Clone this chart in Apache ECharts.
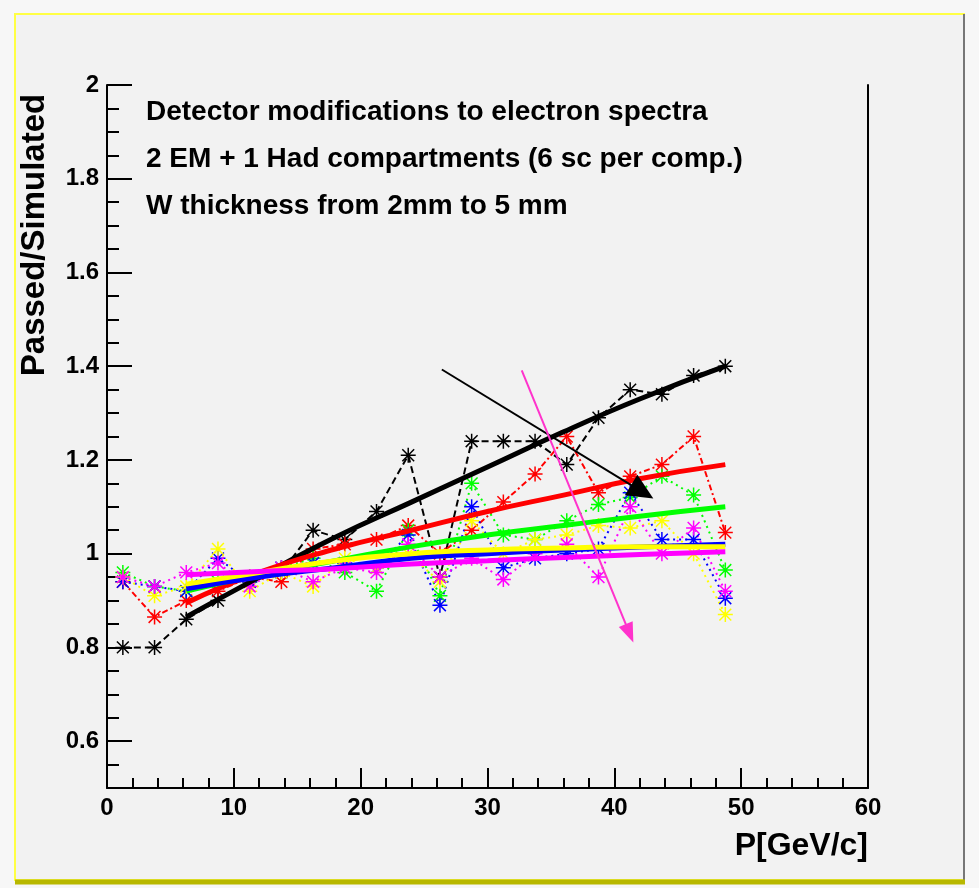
<!DOCTYPE html>
<html>
<head>
<meta charset="utf-8">
<script src="https://cdn.jsdelivr.net/npm/echarts@6/dist/echarts.min.js"></script>
<style>
html, body { margin: 0; padding: 0; background: #f7f7f7; }
#main { width: 979px; height: 888px; }
</style>
</head>
<body>
<div id="main"></div>
<script>
var chart = echarts.init(document.getElementById('main'));

// momentum bins (GeV/c)
var pX = [1.25, 3.75, 6.25, 8.75, 11.25, 13.75, 16.25, 18.75, 21.25, 23.75,
          26.25, 28.75, 31.25, 33.75, 36.25, 38.75, 41.25, 43.75, 46.25, 48.75];

// passed/simulated ratio, one list per W thickness
var blackPts   = [0.80, 0.80, 0.86, 0.90, 0.94, 0.96, 1.05, 1.03, 1.09, 1.21, 0.95, 1.24, 1.24, 1.24, 1.19, 1.29, 1.35, 1.34, 1.38, 1.40];
var redPts     = [0.94, 0.865, 0.90, 0.92, 0.95, 0.94, 1.01, 1.02, 1.03, 1.06, 1.00, 1.05, 1.11, 1.17, 1.25, 1.13, 1.165, 1.19, 1.25, 1.045];
var greenPts   = [0.96, 0.93, 0.92, 0.94, 0.95, 0.97, 0.99, 0.96, 0.92, 1.05, 0.91, 1.15, 1.04, 1.03, 1.07, 1.105, 1.12, 1.165, 1.125, 0.965];
var yellowPts  = [0.95, 0.91, 0.93, 1.01, 0.92, 0.96, 0.93, 0.99, 0.97, 1.00, 0.94, 1.07, 1.00, 1.03, 1.04, 1.06, 1.055, 1.07, 1.00, 0.87];
var bluePts    = [0.94, 0.93, 0.92, 0.99, 0.94, 0.97, 0.98, 0.98, 0.97, 1.04, 0.89, 1.10, 0.97, 0.99, 1.00, 1.01, 1.13, 1.03, 1.03, 0.905];
var magentaPts = [0.95, 0.93, 0.96, 0.98, 0.93, 0.97, 0.94, 0.97, 0.96, 1.02, 0.95, 0.99, 0.945, 1.00, 1.02, 0.95, 1.10, 1.00, 1.055, 0.92];

// fitted curves
var fitX       = [6.25, 12, 18, 24, 30, 36, 42, 48.75];
var blackFit   = [0.865, 0.95, 1.035, 1.11, 1.185, 1.26, 1.33, 1.40];
var redFit     = [0.895, 0.96, 1.01, 1.05, 1.09, 1.125, 1.16, 1.19];
var greenFit   = [0.92, 0.955, 0.985, 1.015, 1.04, 1.06, 1.08, 1.10];
var blueFit    = [0.925, 0.95, 0.97, 0.99, 1.0, 1.008, 1.014, 1.02];
var yellowFit  = [0.935, 0.96, 0.985, 1.0, 1.008, 1.012, 1.015, 1.015];
var magentaFit = [0.955, 0.962, 0.968, 0.978, 0.985, 0.992, 0.998, 1.004];

var textLines = [
    'Detector modifications to electron spectra',
    '2 EM + 1 Had compartments (6 sc per comp.)',
    'W thickness from 2mm to 5 mm'
];

// annotation arrows: [x1, y1, x2, y2] in data units
var blackArrow = [26.4, 1.393, 42.2, 1.132];
var pinkArrow = [32.7, 1.391, 41.2, 0.83];

var font = '"Liberation Sans", Arial, sans-serif';
var starPath = 'path://M0 9L20 9L20 11L0 11Z M9 0L11 0L11 20L9 20Z M1.4 2.8L2.8 1.4L18.6 17.2L17.2 18.6Z M17.2 1.4L18.6 2.8L2.8 18.6L1.4 17.2Z';

function pairs(xs, ys) {
    return xs.map(function(x, i) { return [x, ys[i]]; });
}

var sets = [
    { color: '#000000', pts: blackPts, fit: blackFit, dash: [7, 4] },
    { color: '#ff0000', pts: redPts, fit: redFit, dash: [6, 3, 2, 3] },
    { color: '#00ff00', pts: greenPts, fit: greenFit, dash: [2, 4] },
    { color: '#0000ff', pts: bluePts, fit: blueFit, dash: [2, 4] },
    { color: '#ffff00', pts: yellowPts, fit: yellowFit, dash: [2, 4] },
    { color: '#ff00ff', pts: magentaPts, fit: magentaFit, dash: [2, 4] }
];

var series = [];
sets.forEach(function(s) {
    series.push({
        type: 'line',
        data: pairs(pX, s.pts),
        symbol: starPath,
        symbolSize: 15,
        showAllSymbol: true,
        itemStyle: { color: s.color },
        lineStyle: { color: s.color, width: 2, type: s.dash },
        silent: true,
        z: 2
    });
    series.push({
        type: 'line',
        data: pairs(fitX, s.fit),
        smooth: true,
        showSymbol: false,
        symbol: 'none',
        lineStyle: { color: s.color, width: 5 },
        silent: true,
        z: 3
    });
});

series.push({
    type: 'line',
    data: [],
    markLine: {
        silent: true,
        animation: false,
        symbol: ['none', 'triangle'],
        label: { show: false },
        data: [
            [{ coord: [blackArrow[0], blackArrow[1]], symbolSize: 0, lineStyle: { color: '#000', width: 2, type: 'solid' }, itemStyle: { color: '#000' } },
             { coord: [blackArrow[2], blackArrow[3]], symbolSize: [24, 26] }],
            [{ coord: [pinkArrow[0], pinkArrow[1]], symbolSize: 0, lineStyle: { color: '#ff33cc', width: 2, type: 'solid' }, itemStyle: { color: '#ff33cc' } },
             { coord: [pinkArrow[2], pinkArrow[3]], symbolSize: [15, 20] }]
        ]
    },
    z: 5
});

chart.setOption({
    backgroundColor: '#f7f7f7',
    animation: false,
    title: {
        text: textLines.join('\n'),
        left: 141,
        top: 84,
        textStyle: { color: '#000', fontSize: 28, fontWeight: 'bold', fontFamily: font, lineHeight: 47 }
    },
    grid: { left: 107, right: 111, top: 85, bottom: 100 },
    xAxis: {
        type: 'value',
        min: 0,
        max: 60,
        interval: 10,
        axisLine: { lineStyle: { color: '#000', width: 2 } },
        axisTick: { inside: true, length: 20, lineStyle: { color: '#000', width: 2 } },
        minorTick: { show: true, splitNumber: 5, length: 10, lineStyle: { color: '#000', width: 2 } },
        splitLine: { show: false },
        axisLabel: { color: '#000', fontSize: 24, fontWeight: 'bold', fontFamily: font, margin: 8 },
        name: 'P[GeV/c]',
        nameLocation: 'end',
        nameGap: 0,
        nameTextStyle: { color: '#000', fontSize: 32, fontWeight: 'bold', fontFamily: font, align: 'right', verticalAlign: 'top', padding: [42, 0, 0, 0] }
    },
    yAxis: [{
        type: 'value',
        min: 0.5,
        max: 2,
        splitNumber: 7,
        axisLine: { show: true, lineStyle: { color: '#000', width: 2 } },
        axisTick: { inside: true, length: 25, lineStyle: { color: '#000', width: 2 } },
        minorTick: { show: true, splitNumber: 4, length: 12, lineStyle: { color: '#000', width: 2 } },
        splitLine: { show: false },
        axisLabel: { color: '#000', fontSize: 24, fontWeight: 'bold', fontFamily: font, margin: 8, showMinLabel: false }
    }, {
        type: 'value',
        position: 'right',
        min: 0.5,
        max: 2,
        axisLine: { show: true, lineStyle: { color: '#000', width: 2 } },
        axisTick: { show: false },
        axisLabel: { show: false },
        splitLine: { show: false }
    }],
    graphic: [
        { type: 'rect', z: -10, shape: { x: 15, y: 14, width: 949, height: 866 }, style: { fill: '#f2f2f2', stroke: '#ffff44', lineWidth: 2 } },
        { type: 'line', z: -9, shape: { x1: 964, y1: 14, x2: 964, y2: 881 }, style: { stroke: '#777', lineWidth: 2 } },
        { type: 'line', z: -9, shape: { x1: 15, y1: 882, x2: 965, y2: 882 }, style: { stroke: '#b8b800', lineWidth: 5 } },
        {
            type: 'text',
            x: 35,
            y: 235,
            rotation: Math.PI / 2,
            style: { text: 'Passed/Simulated', fill: '#000', fontSize: 33, fontWeight: 'bold', fontFamily: font, align: 'center', verticalAlign: 'middle' }
        }
    ],
    series: series
});
</script>
</body>
</html>
